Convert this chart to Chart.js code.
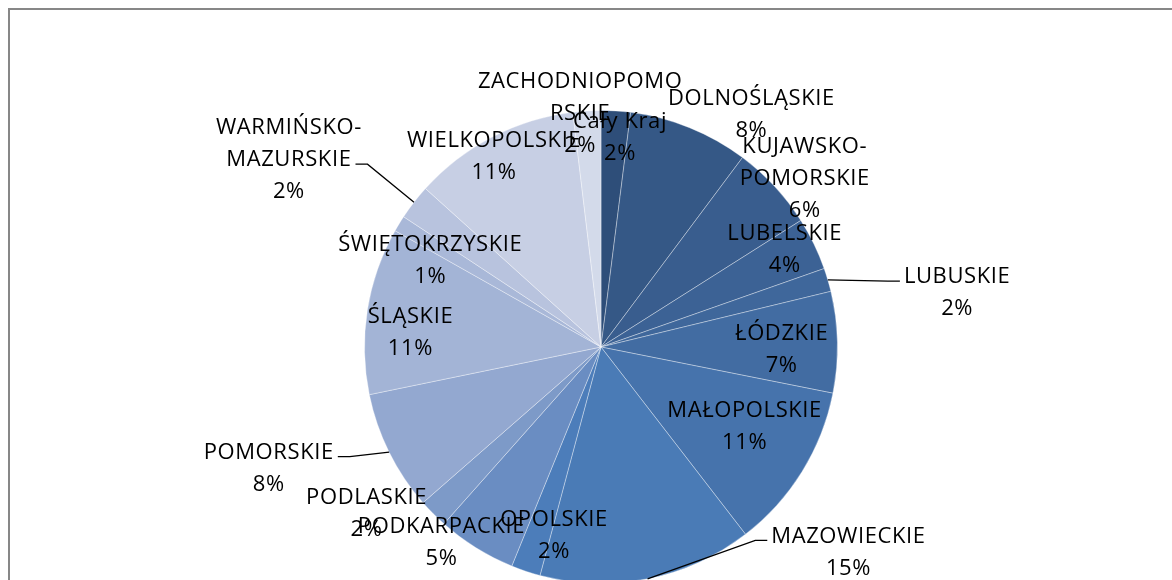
<!DOCTYPE html>
<html>
<head>
<meta charset="utf-8">
<script src="https://cdn.jsdelivr.net/npm/chart.js@4"></script>
<style>
    html, body { margin: 0; padding: 0; background: #fff; overflow: hidden; }
    #frame { position: absolute; left: 8px; top: 8px; width: 1400px; height: 800px;
             border-top: 2px solid #878787; border-left: 2px solid #878787; }
    #chart { position: absolute; left: 0; top: 0; }
</style>
</head>
<body>
<div id="frame"></div>
<canvas id="chart" width="1172" height="600"></canvas>
<script>
// --- DANE ---
const regions = ['Cały Kraj', 'DOLNOŚLĄSKIE', 'KUJAWSKO-POMORSKIE', 'LUBELSKIE', 'LUBUSKIE',
    'ŁÓDZKIE', 'MAŁOPOLSKIE', 'MAZOWIECKIE', 'OPOLSKIE', 'PODKARPACKIE', 'PODLASKIE',
    'POMORSKIE', 'ŚLĄSKIE', 'ŚWIĘTOKRZYSKIE', 'WARMIŃSKO-MAZURSKIE', 'WIELKOPOLSKIE',
    'ZACHODNIOPOMORSKIE'];
const shares = [2.0, 8.2, 5.8, 3.6, 1.6, 6.9, 11.4, 14.6, 2.0, 5.4, 2.0, 8.2, 11.4, 1.1, 2.4, 11.4, 1.9];

// --- WYGLĄD ---
const sliceColors = ['#2E4E79', '#355886', '#395D8E', '#3C6295', '#3F679B', '#426CA2', '#4673AC',
    '#4A7BB6', '#4C7DBA', '#6A8DC2', '#7D9AC8', '#93A8D0', '#A3B4D6', '#A9B8D8', '#B8C3DE',
    '#C7CFE4', '#D3DAEA'];
// położenie etykiet: kąt od góry (stopnie) i odległość jako ułamek promienia
const labelAngles = [5.2, 32.9, 50.4, 62.2, 81.4, 90.9, 119.1, 129.7, 194, 219.2, 234.6, 249.9,
    274.2, 296.7, 300.9, 330.7, 354.9];
const labelRadii = [0.89, 1.171, 1.118, 0.878, 1.523, 0.764, 0.695, 1.36, 0.822, 1.067, 1.216,
    1.496, 0.808, 0.808, 1.538, 0.924, 0.991];
// linie odniesienia (strona etykiety, numer wiersza)
const leaders = { 4: { side: 'left', line: 0 }, 7: { side: 'left', line: 0 },
    11: { side: 'right', line: 0 }, 14: { side: 'right', line: 1 } };

const LINE_H = 32;
const FONT = '22px "Open Sans"';

function wrapLabel(ctx, text, maxW) {
    if (ctx.measureText(text).width <= maxW) return [text];
    const hy = text.indexOf('-');
    if (hy > 0) return [text.slice(0, hy + 1), text.slice(hy + 1)];
    let n = text.length;
    while (n > 1 && ctx.measureText(text.slice(0, n)).width > maxW) n--;
    return [text.slice(0, n), text.slice(n)];
}

const sliceLabels = {
    id: 'sliceLabels',
    afterDatasetsDraw(chart) {
        const ctx = chart.ctx;
        const arcs = chart.getDatasetMeta(0).data;
        const total = shares.reduce((a, b) => a + b, 0);
        ctx.save();
        ctx.font = FONT;
        ctx.letterSpacing = '0.6px';
        ctx.fillStyle = '#000';
        ctx.strokeStyle = '#000';
        ctx.lineWidth = 1.3;
        ctx.textAlign = 'center';
        ctx.textBaseline = 'middle';
        arcs.forEach((arc, i) => {
            const p = arc.getProps(['x', 'y', 'outerRadius', 'startAngle', 'endAngle'], true);
            const a = labelAngles[i] * Math.PI / 180;
            const r = labelRadii[i] * p.outerRadius;
            const cx = p.x + r * Math.sin(a);
            const cy = p.y - r * Math.cos(a);
            const lines = wrapLabel(ctx, regions[i], 214);
            lines.push(Math.round(shares[i] / total * 100) + '%');
            const top = cy - (lines.length - 1) * LINE_H / 2;

            const lead = leaders[i];
            if (lead) {
                const mid = (p.startAngle + p.endAngle) / 2;
                const ex = p.x + p.outerRadius * Math.cos(mid);
                const ey = p.y + p.outerRadius * Math.sin(mid);
                const w = ctx.measureText(lines[lead.line]).width;
                const dir = lead.side === 'left' ? -1 : 1;
                const ax = cx + dir * (w / 2 + 4);
                const ay = top + lead.line * LINE_H + 4;
                ctx.beginPath();
                ctx.moveTo(ax, ay);
                ctx.lineTo(ax + dir * 12, ay);
                ctx.lineTo(ex, ey);
                ctx.stroke();
            }
            lines.forEach((t, k) => ctx.fillText(t, cx, top + k * LINE_H));
        });
        ctx.restore();
    }
};

new Chart(document.getElementById('chart'), {
    type: 'pie',
    data: {
        labels: regions,
        datasets: [{
            data: shares,
            backgroundColor: sliceColors,
            borderColor: 'rgba(255, 255, 255, 0.35)',
            borderWidth: 1
        }]
    },
    options: {
        responsive: false,
        animation: false,
        devicePixelRatio: 1,
        layout: { padding: { left: 364, right: 334, top: 110, bottom: 16 } },
        plugins: {
            legend: { display: false },
            tooltip: { enabled: false }
        }
    },
    plugins: [sliceLabels]
});
</script>
</body>
</html>
